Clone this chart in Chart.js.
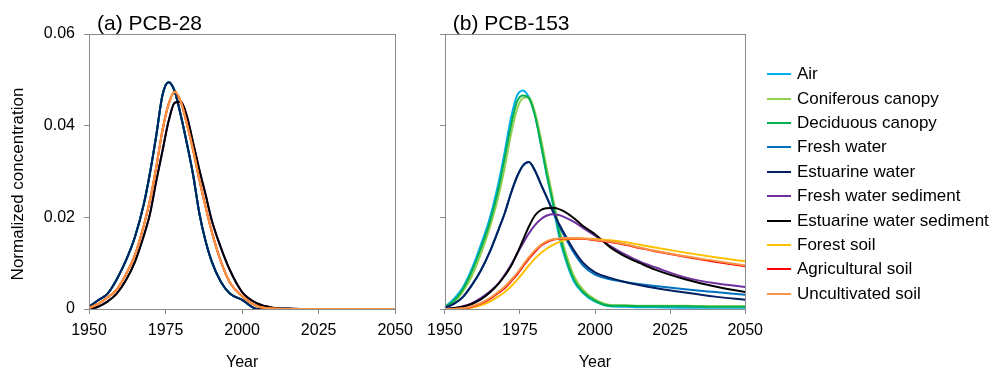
<!DOCTYPE html>
<html>
<head>
<meta charset="utf-8">
<title>PCB normalized concentration</title>
<script src="https://cdn.jsdelivr.net/npm/chart.js@4.4.0/dist/chart.umd.min.js"></script>
<style>
  body { margin: 0; background: #fff; }
  #wrap { position: relative; width: 994px; height: 375px; font-family: "Liberation Sans", Arial, sans-serif; }
  #chartA { position: absolute; left: 0; top: 0; }
  #chartB { position: absolute; left: 420px; top: 0; }
  #legend { position: absolute; left: 767px; top: 62px; }
  .item { height: 24.4px; display: flex; align-items: center; font-size: 17px; color: #000; white-space: nowrap; }
  .swatch { width: 24px; height: 2px; margin-right: 6px; }
</style>
</head>
<body>
<div id="wrap">
  <canvas id="chartA" width="420" height="375"></canvas>
  <canvas id="chartB" width="350" height="375"></canvas>
  <div id="legend"></div>
</div>
<script>
// Años de muestreo (comunes a los dos paneles)
const YEARS = [1950, 1953, 1956, 1959, 1962, 1965, 1968, 1970, 1972, 1974, 1976, 1978, 1980, 1982,
               1984, 1986, 1988, 1990, 1993, 1996, 2000, 2005, 2010, 2015, 2020, 2030, 2040, 2050];

const SERIES = ['Air', 'Coniferous canopy', 'Deciduous canopy', 'Fresh water', 'Estuarine water',
                'Fresh water sediment', 'Estuarine water sediment', 'Forest soil', 'Agricultural soil', 'Uncultivated soil'];
const COLORS = ['#00b0f0', '#92d050', '#00b050', '#0070c0', '#002060',
                '#7030a0', '#000000', '#ffc000', '#ff0000', '#f79646'];

const X_TICKS = [1950, 1975, 2000, 2025, 2050];
const Y_TICKS = [0, 0.02, 0.04, 0.06];

// (a) PCB-28: los compartimentos se solapan en tres grupos
const pcb28Water = [0.0005, 0.0019, 0.0033, 0.0064, 0.0105, 0.0157, 0.0232, 0.0300, 0.0380, 0.0467, 0.0495, 0.0475, 0.0422, 0.0360,
                    0.0293, 0.0210, 0.0150, 0.0105, 0.0060, 0.0034, 0.0020, 0, 0, 0, 0, 0, 0, 0];
const pcb28Soil = [0.0002, 0.0011, 0.0025, 0.0042, 0.0075, 0.0118, 0.0185, 0.0240, 0.0311, 0.0390, 0.0447, 0.0474, 0.0452, 0.0403,
                   0.0347, 0.0283, 0.0225, 0.0171, 0.0105, 0.0058, 0.0028, 0.0006, 0.0001, 0, 0, 0, 0, 0];
const pcb28Sediment = [0, 0.0005, 0.0016, 0.0033, 0.0062, 0.0103, 0.0162, 0.0210, 0.0280, 0.0345, 0.0410, 0.0450, 0.0452, 0.0420,
                       0.0363, 0.0305, 0.0252, 0.0196, 0.0135, 0.0085, 0.0037, 0.0012, 0.0003, 0.0001, 0, 0, 0, 0];

// (b) PCB-153
const pcb153Air = [0.0004, 0.0022, 0.0047, 0.0088, 0.0140, 0.0199, 0.0279, 0.0345, 0.0416, 0.0465, 0.0477, 0.0462, 0.0425, 0.0358,
                   0.0290, 0.0228, 0.0160, 0.0112, 0.0060, 0.0035, 0.0016, 0.0006, 0.0005, 0.0004, 0.0004, 0.0003, 0.0003, 0.0003];
const pcb153Conifer = [0.0003, 0.0014, 0.0038, 0.0072, 0.0120, 0.0178, 0.0250, 0.0310, 0.0380, 0.0435, 0.0460, 0.0462, 0.0430, 0.0372,
                       0.0305, 0.0242, 0.0180, 0.0128, 0.0072, 0.0042, 0.0021, 0.0009, 0.0008, 0.0007, 0.0007, 0.0007, 0.0006, 0.0006];
const pcb153Decid = [0.0004, 0.0018, 0.0043, 0.0082, 0.0132, 0.0190, 0.0266, 0.0332, 0.0400, 0.0452, 0.0466, 0.0460, 0.0422, 0.0360,
                     0.0292, 0.0232, 0.0168, 0.0118, 0.0064, 0.0037, 0.0018, 0.0007, 0.0007, 0.0006, 0.0006, 0.0006, 0.0005, 0.0005];
const pcb153FreshWater = [0.0003, 0.0011, 0.0026, 0.0052, 0.0084, 0.0125, 0.0175, 0.0210, 0.0252, 0.0288, 0.0313, 0.0321, 0.0302, 0.0272,
                          0.0243, 0.0212, 0.0182, 0.0157, 0.0122, 0.0095, 0.0075, 0.0065, 0.0059, 0.0054, 0.0050, 0.0043, 0.0037, 0.0031];
const pcb153EstWater = [0.0003, 0.0011, 0.0026, 0.0052, 0.0084, 0.0125, 0.0175, 0.0210, 0.0252, 0.0288, 0.0313, 0.0321, 0.0302, 0.0272,
                        0.0243, 0.0214, 0.0186, 0.0162, 0.0128, 0.0101, 0.0080, 0.0068, 0.0059, 0.0052, 0.0046, 0.0036, 0.0027, 0.0020];
const pcb153FwSediment = [0, 0.0002, 0.0006, 0.0013, 0.0024, 0.0038, 0.0057, 0.0075, 0.0096, 0.0120, 0.0143, 0.0165, 0.0183, 0.0196,
                          0.0204, 0.0207, 0.0205, 0.0200, 0.0190, 0.0177, 0.0160, 0.0138, 0.0119, 0.0103, 0.0091, 0.0069, 0.0056, 0.0048];
const pcb153EstSediment = [0, 0.0002, 0.0005, 0.0011, 0.0021, 0.0036, 0.0056, 0.0073, 0.0093, 0.0120, 0.0150, 0.0180, 0.0204, 0.0216,
                           0.0220, 0.0221, 0.0218, 0.0212, 0.0198, 0.0181, 0.0163, 0.0135, 0.0115, 0.0100, 0.0086, 0.0065, 0.0049, 0.0037];
const pcb153Forest = [0, 0, 0.0001, 0.0003, 0.0008, 0.0016, 0.0028, 0.0037, 0.0049, 0.0063, 0.0079, 0.0095, 0.0110, 0.0122,
                      0.0132, 0.0140, 0.0146, 0.0151, 0.0153, 0.0154, 0.0153, 0.0150, 0.0146, 0.0140, 0.0134, 0.0123, 0.0113, 0.0104];
const pcb153Agri = [0, 0, 0.0001, 0.0005, 0.0012, 0.0022, 0.0036, 0.0046, 0.0060, 0.0075, 0.0093, 0.0110, 0.0125, 0.0138,
                    0.0146, 0.0151, 0.0153, 0.0154, 0.0154, 0.0153, 0.0150, 0.0146, 0.0140, 0.0133, 0.0126, 0.0114, 0.0103, 0.0093];
const pcb153Uncult = [0, 0, 0.0001, 0.0006, 0.0013, 0.0024, 0.0038, 0.0049, 0.0063, 0.0078, 0.0096, 0.0113, 0.0128, 0.0140,
                      0.0148, 0.0152, 0.0154, 0.0155, 0.0155, 0.0154, 0.0151, 0.0147, 0.0141, 0.0134, 0.0127, 0.0115, 0.0105, 0.0095];

const PANEL_A = [pcb28Water, pcb28Water, pcb28Water, pcb28Water, pcb28Water,
                 pcb28Sediment, pcb28Sediment, pcb28Soil, pcb28Soil, pcb28Soil];
const PANEL_B = [pcb153Air, pcb153Conifer, pcb153Decid, pcb153FreshWater, pcb153EstWater,
                 pcb153FwSediment, pcb153EstSediment, pcb153Forest, pcb153Agri, pcb153Uncult];

const AXIS_GREY = '#8c8c8c';
const FONT = '"Liberation Sans", Arial, sans-serif';

// como en Excel: la última serie queda encima
function construirDatasets(valores) {
    return SERIES.map((nombre, i) => ({
        label: nombre,
        data: YEARS.map((x, j) => ({ x: x, y: valores[i][j] })),
        borderColor: COLORS[i],
        backgroundColor: COLORS[i],
        borderWidth: 2,
        pointRadius: 0,
        cubicInterpolationMode: 'monotone',
        order: SERIES.length - i
    }));
}

// marco gris alrededor del área de trazado
const marco = {
    id: 'marco',
    afterDatasetsDraw(chart) {
        const { ctx, chartArea: a } = chart;
        ctx.save();
        ctx.strokeStyle = AXIS_GREY;
        ctx.lineWidth = 1;
        ctx.strokeRect(Math.round(a.left) + 0.5, Math.round(a.top) + 0.5,
                       Math.round(a.right - a.left), Math.round(a.bottom - a.top));
        ctx.restore();
    }
};

// título del panel y etiqueta vertical
const textos = {
    id: 'textos',
    afterDraw(chart, args, opts) {
        const ctx = chart.ctx;
        ctx.save();
        ctx.fillStyle = '#000';
        ctx.font = '21px ' + FONT;
        ctx.textBaseline = 'alphabetic';
        ctx.textAlign = 'left';
        ctx.fillText(opts.title, chart.chartArea.left + 8, 30);
        if (opts.yLabel) {
            ctx.font = '17px ' + FONT;
            ctx.translate(18, 184);
            ctx.rotate(-Math.PI / 2);
            ctx.textAlign = 'center';
            ctx.textBaseline = 'middle';
            ctx.fillText(opts.yLabel, 0, 0);
        }
        ctx.restore();
    }
};

function opciones(titulo, yLabel, anchoY, derecha, mostrarY) {
    return {
        responsive: false,
        animation: false,
        layout: { padding: { top: 34, right: derecha, left: 0, bottom: 0 } },
        plugins: {
            legend: { display: false },
            tooltip: { enabled: false },
            textos: { title: titulo, yLabel: yLabel }
        },
        scales: {
            x: {
                type: 'linear',
                min: X_TICKS[0],
                max: X_TICKS[X_TICKS.length - 1],
                afterBuildTicks: s => { s.ticks = X_TICKS.map(v => ({ value: v })); },
                afterFit: s => { s.height = 66; },
                border: { display: false },
                grid: { drawOnChartArea: false, drawTicks: true, tickLength: 5, color: AXIS_GREY },
                ticks: { color: '#000', font: { family: FONT, size: 16 }, padding: 7, maxRotation: 0,
                         callback: v => String(v) },
                title: { display: true, text: 'Year', color: '#000', font: { family: FONT, size: 16 },
                         padding: { top: 0, bottom: 3 } }
            },
            y: {
                min: Y_TICKS[0],
                max: Y_TICKS[Y_TICKS.length - 1],
                afterBuildTicks: s => { s.ticks = Y_TICKS.map(v => ({ value: v })); },
                afterFit: s => { s.width = anchoY; },
                border: { display: false },
                grid: { drawOnChartArea: false, drawTicks: true, tickLength: 5, color: AXIS_GREY },
                ticks: { display: mostrarY, color: '#000', font: { family: FONT, size: 16 }, padding: 9,
                         callback: v => v === 0 ? '0' : v.toFixed(2) }
            }
        }
    };
}

new Chart(document.getElementById('chartA'), {
    type: 'line',
    data: { datasets: construirDatasets(PANEL_A) },
    options: opciones('(a) PCB-28', 'Normalized concentration', 89, 23, true),
    plugins: [marco, textos]
});

const chartB = new Chart(document.getElementById('chartB'), {
    type: 'line',
    data: { datasets: construirDatasets(PANEL_B) },
    options: opciones('(b) PCB-153', null, 21, 21, false),
    plugins: [marco, textos]
});

// leyenda a partir de los datasets
const legend = document.getElementById('legend');
chartB.data.datasets.forEach(ds => {
    const item = document.createElement('div');
    item.className = 'item';
    const sw = document.createElement('span');
    sw.className = 'swatch';
    sw.style.background = ds.borderColor;
    const txt = document.createElement('span');
    txt.textContent = ds.label;
    item.appendChild(sw);
    item.appendChild(txt);
    legend.appendChild(item);
});
</script>
</body>
</html>
